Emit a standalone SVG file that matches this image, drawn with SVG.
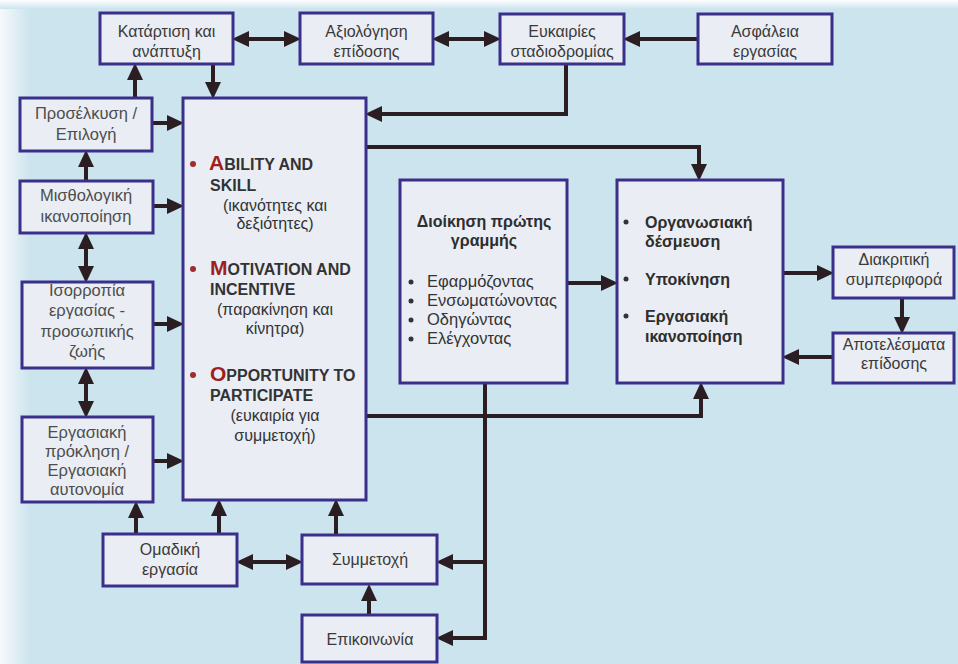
<svg xmlns="http://www.w3.org/2000/svg" width="958" height="664" viewBox="0 0 958 664">
<defs>
<linearGradient id="lg" x1="0" y1="0" x2="1" y2="0">
<stop offset="0" stop-color="#f6f9fb"/>
<stop offset="1" stop-color="#cce4ee"/>
</linearGradient>
<linearGradient id="tg" x1="0" y1="0" x2="0" y2="1">
<stop offset="0" stop-color="#ffffff"/>
<stop offset="1" stop-color="#cce4ee"/>
</linearGradient>
<marker id="ah" markerUnits="userSpaceOnUse" markerWidth="18" markerHeight="16" refX="6" refY="8" orient="auto-start-reverse">
<path d="M0,0 L17,8 L0,16 z" fill="#2b1e22"/>
</marker>
<style>
.box{fill:#eaedf3;stroke:#3b2f8c;stroke-width:3}
.lbl{font-family:"Liberation Sans",Arial,sans-serif;font-size:16px;fill:#3a3a3a;text-anchor:middle}
.lft{fill:#4d4d4d;font-size:16.5px}
.hd{font-family:"Liberation Sans",Arial,sans-serif;font-size:16px;font-weight:bold;fill:#333}
.big{font-size:21px;fill:#9e1f1f}
.par{font-family:"Liberation Sans",Arial,sans-serif;font-size:16px;fill:#333;text-anchor:middle}
.bd{font-family:"Liberation Sans",Arial,sans-serif;font-size:16px;font-weight:bold;fill:#2e2e2e}
.li{font-family:"Liberation Sans",Arial,sans-serif;font-size:16.5px;fill:#333}
.c{fill:none;stroke:#2b1e22;stroke-width:4}
.a{marker-end:url(#ah)}
.aa{marker-start:url(#ah);marker-end:url(#ah)}
</style>
</defs>
<rect x="0" y="0" width="958" height="664" fill="#cce4ee"/>
<rect x="0" y="0" width="30" height="664" fill="url(#lg)"/>
<rect x="0" y="0" width="958" height="9" fill="url(#tg)"/>

<g id="connectors">
<line class="c aa" x1="243" y1="39" x2="290" y2="39"/>
<line class="c aa" x1="443" y1="39" x2="490" y2="39"/>
<line class="c a" x1="698" y1="39" x2="634" y2="39"/>
<line class="c a" x1="213" y1="64" x2="213" y2="88"/>
<line class="c a" x1="135" y1="98" x2="135" y2="74"/>
<path class="c a" d="M566,64 V114 H376"/>
<path class="c a" d="M366,147 H699 V170"/>
<line class="c a" x1="152" y1="123" x2="173" y2="123"/>
<line class="c a" x1="153" y1="206" x2="173" y2="206"/>
<line class="c a" x1="86" y1="181" x2="86" y2="161"/>
<line class="c aa" x1="86" y1="243" x2="86" y2="272"/>
<line class="c a" x1="153" y1="324" x2="173" y2="324"/>
<line class="c aa" x1="86" y1="378" x2="86" y2="407"/>
<line class="c a" x1="153" y1="461" x2="173" y2="461"/>
<line class="c a" x1="136" y1="534" x2="136" y2="512"/>
<line class="c a" x1="219" y1="534" x2="219" y2="510"/>
<line class="c a" x1="336" y1="535" x2="336" y2="510"/>
<line class="c aa" x1="247" y1="562" x2="292" y2="562"/>
<line class="c a" x1="369" y1="615" x2="369" y2="595"/>
<path class="c a" d="M366,416 H701 V393"/>
<path class="c a" d="M485,383 V638 H447"/>
<path class="c a" d="M485,562 H447"/>
<line class="c a" x1="567" y1="283" x2="607" y2="283"/>
<line class="c a" x1="783" y1="273" x2="823" y2="273"/>
<line class="c a" x1="902" y1="298" x2="902" y2="323"/>
<line class="c a" x1="833" y1="357" x2="793" y2="357"/>
</g>

<g id="katartisi">
<rect class="box" x="100" y="13" width="133" height="51"/>
<text class="lbl" x="166.5" y="37">Κατάρτιση και</text>
<text class="lbl" x="166.5" y="57">ανάπτυξη</text>
</g>
<g id="axiologisi">
<rect class="box" x="300" y="13" width="133" height="51"/>
<text class="lbl" x="366.5" y="37">Αξιολόγηση</text>
<text class="lbl" x="366.5" y="57">επίδοσης</text>
</g>
<g id="eukairies">
<rect class="box" x="500" y="14" width="124" height="50"/>
<text class="lbl" x="562" y="37">Ευκαιρίες</text>
<text class="lbl" x="562" y="57">σταδιοδρομίας</text>
</g>
<g id="asfaleia">
<rect class="box" x="698" y="14" width="134" height="50"/>
<text class="lbl" x="765" y="37">Ασφάλεια</text>
<text class="lbl" x="765" y="57">εργασίας</text>
</g>

<g id="proselkysi">
<rect class="box" x="20" y="98" width="132" height="53"/>
<text class="lbl lft" x="86" y="119">Προσέλκυση /</text>
<text class="lbl lft" x="86" y="140">Επιλογή</text>
</g>
<g id="misthologiki">
<rect class="box" x="20" y="181" width="133" height="52"/>
<text class="lbl lft" x="86" y="201">Μισθολογική</text>
<text class="lbl lft" x="86" y="222">ικανοποίηση</text>
</g>
<g id="isorropia">
<rect class="box" x="22" y="282" width="131" height="86"/>
<text class="lbl lft" x="87" y="296">Ισορροπία</text>
<text class="lbl lft" x="87" y="316">εργασίας -</text>
<text class="lbl lft" x="87" y="337">προσωπικής</text>
<text class="lbl lft" x="87" y="357">ζωής</text>
</g>
<g id="ergasiaki">
<rect class="box" x="22" y="417" width="131" height="85"/>
<text class="lbl lft" x="87" y="438">Εργασιακή</text>
<text class="lbl lft" x="87" y="457">πρόκληση /</text>
<text class="lbl lft" x="87" y="476">Εργασιακή</text>
<text class="lbl lft" x="87" y="495">αυτονομία</text>
</g>

<g id="amo">
<rect class="box" x="183" y="98" width="183" height="402"/>
<circle cx="193" cy="164" r="3" fill="#a32b2b"/>
<text class="hd" x="209" y="170"><tspan class="big">A</tspan>BILITY AND</text>
<text class="hd" x="210" y="191">SKILL</text>
<text class="par" x="275" y="211">(ικανότητες και</text>
<text class="par" x="275" y="229">δεξιότητες)</text>
<circle cx="193" cy="269" r="3" fill="#a32b2b"/>
<text class="hd" x="210" y="275"><tspan class="big">M</tspan>OTIVATION AND</text>
<text class="hd" x="210" y="295">INCENTIVE</text>
<text class="par" x="275" y="315">(παρακίνηση και</text>
<text class="par" x="275" y="334">κίνητρα)</text>
<circle cx="193" cy="375" r="3" fill="#a32b2b"/>
<text class="hd" x="210" y="381"><tspan class="big">O</tspan>PPORTUNITY TO</text>
<text class="hd" x="210" y="401">PARTICIPATE</text>
<text class="par" x="275" y="421">(ευκαιρία για</text>
<text class="par" x="275" y="441">συμμετοχή)</text>
</g>

<g id="dioikisi">
<rect class="box" x="400" y="180" width="167" height="203"/>
<text class="bd" x="484" y="227" text-anchor="middle">Διοίκηση πρώτης</text>
<text class="bd" x="484" y="246" text-anchor="middle">γραμμής</text>
<circle cx="411" cy="282" r="2.5" fill="#333"/>
<text class="li" x="427" y="287">Εφαρμόζοντας</text>
<circle cx="411" cy="301" r="2.5" fill="#333"/>
<text class="li" x="427" y="306">Ενσωματώνοντας</text>
<circle cx="411" cy="320" r="2.5" fill="#333"/>
<text class="li" x="427" y="325">Οδηγώντας</text>
<circle cx="411" cy="339" r="2.5" fill="#333"/>
<text class="li" x="427" y="344">Ελέγχοντας</text>
</g>

<g id="organosiaki">
<rect class="box" x="617" y="180" width="166" height="203"/>
<circle cx="626" cy="222" r="2.5" fill="#333"/>
<text class="bd" x="645" y="228">Οργανωσιακή</text>
<text class="bd" x="645" y="247">δέσμευση</text>
<circle cx="626" cy="279" r="2.5" fill="#333"/>
<text class="bd" x="645" y="285">Υποκίνηση</text>
<circle cx="626" cy="316" r="2.5" fill="#333"/>
<text class="bd" x="645" y="322">Εργασιακή</text>
<text class="bd" x="645" y="342">ικανοποίηση</text>
</g>

<g id="diakritiki">
<rect class="box" x="833" y="247" width="121" height="51"/>
<text class="lbl" x="894" y="265">Διακριτική</text>
<text class="lbl" x="894" y="285">συμπεριφορά</text>
</g>
<g id="apotelesmata">
<rect class="box" x="833" y="333" width="121" height="50"/>
<text class="lbl" x="894" y="350">Αποτελέσματα</text>
<text class="lbl" x="894" y="369">επίδοσης</text>
</g>

<g id="omadiki">
<rect class="box" x="103" y="534" width="134" height="52"/>
<text class="lbl" x="170" y="555">Ομαδική</text>
<text class="lbl" x="170" y="575">εργασία</text>
</g>
<g id="symmetoxi">
<rect class="box" x="302" y="535" width="135" height="49"/>
<text class="lbl" x="370" y="565">Συμμετοχή</text>
</g>
<g id="epikoinonia">
<rect class="box" x="302" y="615" width="135" height="47"/>
<text class="lbl" x="370" y="645">Επικοινωνία</text>
</g>
</svg>
